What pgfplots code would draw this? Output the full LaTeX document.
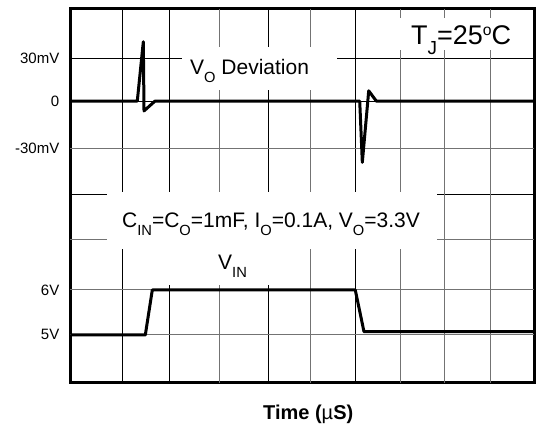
\documentclass[border=0pt]{standalone}
\usepackage{fontspec}
\setmainfont{Liberation Sans}
\usepackage{pgfplots}
\pgfplotsset{compat=1.18}
\newcommand\sub[1]{\raisebox{-0.35em}{\scalebox{0.7}{#1}}}

\pgfplotstableread{
x y
0     6.03
1.441 6.03
1.571 7.30
1.586 5.82
1.823 6.03
6.240 6.03
6.296 4.72
6.434 6.25
6.598 6.03
10    6.03
}\vodev

\pgfplotstableread{
x y
0     1.027
1.614 1.027
1.765 1.99
6.144 1.99
6.332 1.097
10    1.097
}\vin

\begin{document}
\begin{tikzpicture}
\useasboundingbox (-70.5pt,-53pt) rectangle (467.5pt,383pt);
\begin{axis}[
  at={(0,0)}, anchor=south west,
  scale only axis, width=463.5pt, height=374pt,
  xmin=0, xmax=10, ymin=0, ymax=8,
  axis line style={line width=3pt},
  xtick={1.118,2.132,4.268,6.144},
  xticklabels={},
  extra x ticks={3.225,5.182,7.115,8.073,9.066},
  extra x tick labels={},
  extra x tick style={grid style={black!55, line width=1pt}},
  ytick={4.04,6.03,6.95},
  yticklabels={,0\hspace{7pt},30mV},
  extra y ticks={1.04,1.99,3.06,5.01},
  extra y tick labels={5V,6V,,-30mV},
  extra y tick style={grid style={black!55, line width=1pt}},
  major tick length=0pt,
  grid=major,
  grid style={black, line width=0.8pt},
  yticklabel style={font=\fontsize{15}{17}\selectfont, anchor=east, inner sep=0pt, xshift=-11pt},
]
\addplot[line width=3pt, line join=round, line cap=round] table[x=x,y=y] {\vodev};
\addplot[line width=3pt, line join=round, line cap=round] table[x=x,y=y] {\vin};
\end{axis}
% white label backgrounds
\node[fill=white, inner sep=0pt, minimum width=155pt, minimum height=43pt, anchor=south west] at (111.5pt,293pt) {};
\node[fill=white, inner sep=0pt, minimum width=175pt, minimum height=32pt, anchor=south west] at (286.5pt,333pt) {};
\node[fill=white, inner sep=0pt, minimum width=330pt, minimum height=57pt, anchor=south west] at (36.5pt,134pt) {};
\node[fill=white, inner sep=0pt, minimum width=186pt, minimum height=36pt, anchor=south west] at (52.5pt,98pt) {};
% texts
\node[anchor=base west, inner sep=0pt, font=\fontsize{21}{24}\selectfont] at (119.5pt,308pt) {V\sub{O} Deviation};
\node[anchor=base west, inner sep=0pt, font=\fontsize{27}{30}\selectfont] at (340.5pt,338pt) {T\sub{J}=25\raisebox{0.37em}{\scalebox{0.58}{o}}C};
\node[anchor=base west, inner sep=0pt, font=\fontsize{21}{24}\selectfont] at (51.5pt,155pt) {C\sub{IN}=C\sub{O}=1mF, I\sub{O}=0.1A, V\sub{O}=3.3V};
\node[anchor=base west, inner sep=0pt, font=\fontsize{21}{24}\selectfont] at (147.5pt,113pt) {V\sub{IN}};
\node[anchor=base west, inner sep=0pt, font=\fontsize{20}{24}\selectfont\bfseries] at (192.5pt,-37pt) {Time ({\mdseries µ}S)};
\end{tikzpicture}
\end{document}
